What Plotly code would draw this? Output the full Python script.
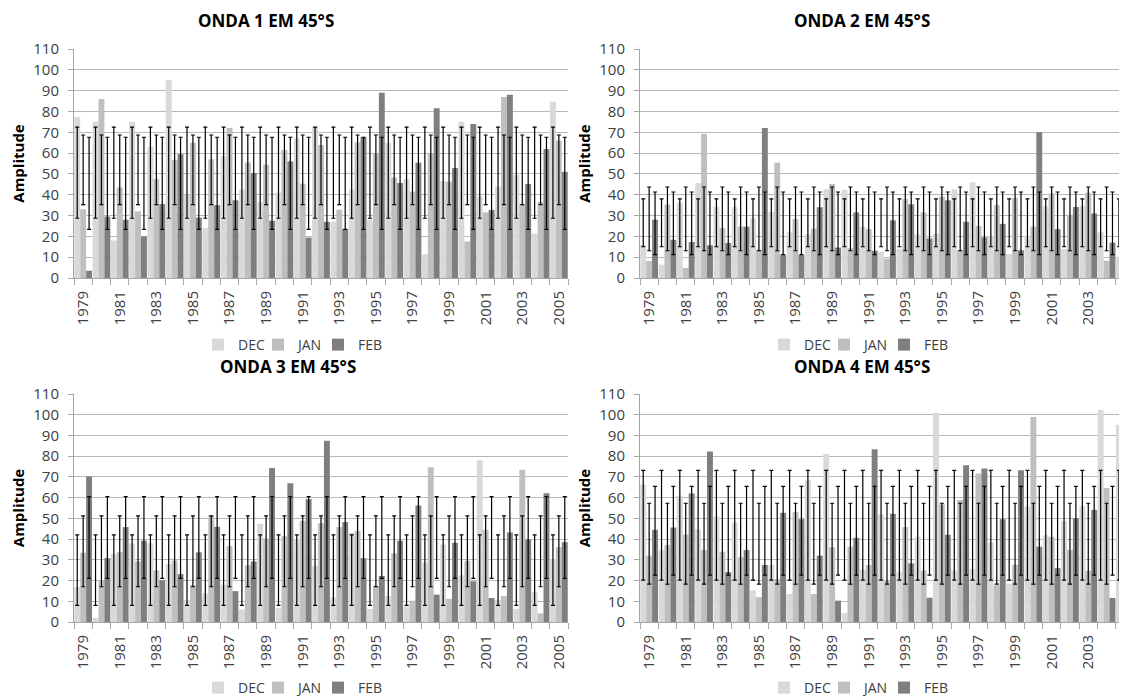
import plotly.graph_objects as go

years = list(range(1979, 2006))
series_names = ["DEC", "JAN", "FEB"]
series_colors = ["#d9d9d9", "#bfbfbf", "#7f7f7f"]
titles = ["ONDA 1 EM 45°S", "ONDA 2 EM 45°S", "ONDA 3 EM 45°S", "ONDA 4 EM 45°S"]

# ---- ONDA 1 ----
onda1_dec = [77.3, 75, 18, 75, 63, 95, 40, 24, 58.5, 42.5, 36.5, 41, 67, 72.5, 27, 42.4, 28, 65, 47.5, 11.4, 46.6, 75, 39.2, 43.9, 49.5, 21.3, 84.7]
onda1_jan = [33, 86, 43.5, 32, 47.5, 56.7, 65, 57, 72, 55.5, 54.4, 61.5, 45.3, 63.9, 32.8, 65.2, 60, 48.2, 41.5, 60, 46.3, 17.5, 31.5, 87, 35.5, 36.5, 66]
onda1_feb = [3.5, 29.5, 28, 20, 35.5, 59.5, 29, 35, 37.3, 50.4, 27.5, 56, 19.4, 27, 23.5, 67.6, 89, 45.6, 55.4, 81.5, 52.8, 74, 32.7, 88, 45.2, 62, 51]
onda1_err_low = [28.7, 35.2, 23.4]
onda1_err_high = [72.5, 68.7, 67.6]

# ---- ONDA 2 ----
onda2_dec = [15.9, 6.4, 36.2, 45.6, 34.3, 34, 28.7, 31.7, 22, 21, 42.6, 42.3, 24.5, 12.6, 14, 21, 21.3, 42.6, 46, 20.2, 11.5, 20.3, 34.4, 14, 34.7, 22, 10.2]
onda2_jan = [8.2, 35.2, 4.8, 69.2, 24, 24.7, 13.6, 55.4, 28.3, 23.7, 45.2, 14.3, 23.5, 9.3, 38, 31.5, 39, 13.3, 25, 35, 38.4, 24.7, 40.7, 30.4, 41, 8.3, 16.5]
onda2_feb = [28, 18.3, 17.3, 15.7, 16.8, 24.7, 72, 11, 11, 34, 14.6, 31.5, 13.1, 27.7, 35.4, 19, 37.3, 27, 19.5, 26, 13.3, 70, 23.5, 34.1, 31, 17, 15]
onda2_err_low = [15.0, 13.1, 11.2]
onda2_err_high = [38.0, 43.7, 41.3]

# ---- ONDA 3 ----
onda3_dec = [16.9, 2, 32.9, 37.9, 38, 27.9, 10.6, 13.8, 18, 6.1, 47.4, 6.7, 40, 27, 11.9, 43, 6.3, 12.5, 7.5, 28.7, 37.3, 22.5, 78, 10.6, 6.4, 14.6, 30.4]
onda3_jan = [33.4, 20.2, 33.7, 29.2, 24.9, 29.7, 17.7, 51.4, 36.6, 27.3, 40.3, 41.4, 48.8, 47.7, 45.8, 44, 17.5, 33.1, 10.3, 74.7, 11.2, 29.5, 44.5, 12.5, 73.4, 4.2, 36.1]
onda3_feb = [70.2, 30.8, 45.8, 39.2, 20.2, 23.1, 33.6, 45.9, 14.9, 29.2, 74.3, 67, 59.3, 87.5, 48.2, 30.8, 22.2, 39.2, 56.2, 13.2, 38.2, 19.6, 11.6, 43.2, 39.8, 62.1, 38.5]
onda3_err_low = [8.0, 17.0, 21.0]
onda3_err_high = [42.0, 51.2, 60.5]

# ---- ONDA 4 ----
onda4_dec = [66.3, 34.7, 61, 44.6, 50.9, 47.9, 15.3, 27.5, 13.5, 68.4, 81.1, 4.3, 25.2, 51.9, 24.2, 41.1, 101, 24.9, 25.5, 38.4, 18.5, 55.7, 41.8, 48.5, 56, 102.3, 95.2]
onda4_jan = [32, 37.1, 42.1, 34.8, 33.9, 31.3, 12, 20.7, 53, 13.5, 36.1, 36.3, 27.5, 20.2, 45.8, 24.9, 56.7, 58.9, 71.6, 17.8, 27.6, 98.9, 41.1, 34.8, 24.7, 64.7, 22.2]
onda4_feb = [44.5, 45.6, 62, 82.2, 24.1, 34.7, 27.5, 52.7, 49.6, 32, 10.3, 40.6, 83.3, 52.2, 28.3, 11.7, 42.1, 75.6, 74, 49.6, 73.2, 36.3, 26, 50.1, 54.1, 11.6, 20]
onda4_err_low = [20.2, 18.3, 22.6]
onda4_err_high = [73.2, 57.3, 65.4]

panels = [
    ([onda1_dec, onda1_jan, onda1_feb], onda1_err_low, onda1_err_high),
    ([onda2_dec, onda2_jan, onda2_feb], onda2_err_low, onda2_err_high),
    ([onda3_dec, onda3_jan, onda3_feb], onda3_err_low, onda3_err_high),
    ([onda4_dec, onda4_jan, onda4_feb], onda4_err_low, onda4_err_high),
]

# page body has an 8px default margin: figure is sized/positioned to compensate
SW, SH = 1127, 697
OFF = 8
W, H = SW - OFF, SH - OFF


def px(sx):
    return (sx - OFF) / W


def py(sy):
    return 1 - (sy - OFF) / H


BARGAP = 0.03
bar_w = (1 - BARGAP) / 3
offsets = [-bar_w, 0, bar_w]

FONT = "Open Sans"
TICK_COLOR = "#404040"
GRID = "#b8b8b8"

fig = go.Figure()

for p, (series, lo, hi) in enumerate(panels):
    sfx = "" if p == 0 else str(p + 1)
    xa, ya = "x" + sfx, "y" + sfx
    leg = "legend" + sfx
    for k, name in enumerate(series_names):
        fig.add_trace(go.Bar(
            x=years, y=series[k], name=name, marker=dict(color=series_colors[k], line=dict(width=0)),
            xaxis=xa, yaxis=ya, legend=leg, showlegend=True,
        ))
    # spacer legend entry so the last real entry is not clipped
    fig.add_trace(go.Scatter(
        x=[None], y=[None], name=" ", mode="markers", marker=dict(color="rgba(0,0,0,0)", size=1),
        xaxis=xa, yaxis=ya, legend=leg, showlegend=True, hoverinfo="skip",
    ))
    for k, name in enumerate(series_names):
        center = (lo[k] + hi[k]) / 2
        half = (hi[k] - lo[k]) / 2
        fig.add_trace(go.Scatter(
            x=[yr + offsets[k] for yr in years], y=[center] * len(years),
            mode="markers", marker=dict(size=1, color="rgba(0,0,0,0)"),
            error_y=dict(type="data", array=[half] * len(years), symmetric=True,
                         color="black", thickness=1.2, width=2),
            xaxis=xa, yaxis=ya, showlegend=False, hoverinfo="skip",
        ))

gw = (568 - 74) / 27.0
left_dom = [px(74), px(568)]
right_dom = [px(640), 1.0]
right_end = 1978.5 + (SW - 640) / gw
top_dom = [py(278), py(49)]
bot_dom = [py(622), py(394)]

layout = dict(
    width=W, height=H, margin=dict(l=0, r=0, t=0, b=0, autoexpand=False),
    paper_bgcolor="white", plot_bgcolor="white",
    barmode="group", bargap=BARGAP, bargroupgap=0,
    font=dict(family=FONT, size=15, color=TICK_COLOR),
    annotations=[],
)

doms = [(left_dom, top_dom, 1978.5 + 27), (right_dom, top_dom, right_end),
        (left_dom, bot_dom, 1978.5 + 27), (right_dom, bot_dom, right_end)]

for p, (xd, yd, xend) in enumerate(doms):
    sfx = "" if p == 0 else str(p + 1)
    layout["xaxis" + sfx] = dict(
        domain=xd, anchor="y" + sfx, range=[1978.5, xend], type="linear", automargin=False,
        tickmode="linear", tick0=1979, dtick=2, tickangle=-90, ticklabeloverflow="allow",
        ticks="outside", ticklen=6, tickcolor="rgba(0,0,0,0)",
        minor=dict(ticks="outside", tickmode="linear", tick0=1978.5, dtick=1, ticklen=6, tickcolor="#a6a6a6", showgrid=False),
        showline=True, linecolor="#a6a6a6", linewidth=1, showgrid=False, zeroline=False,
        tickfont=dict(family=FONT, size=15, color=TICK_COLOR),
    )
    layout["yaxis" + sfx] = dict(
        domain=yd, anchor="x" + sfx, range=[0, 110], dtick=10, tick0=0, automargin=False,
        ticks="outside", ticklen=5, tickcolor="#a6a6a6",
        showline=True, linecolor="#a6a6a6", linewidth=1,
        showgrid=True, gridcolor=GRID, gridwidth=1, zeroline=False,
        tickfont=dict(family=FONT, size=15, color=TICK_COLOR),
        ticklabelstandoff=6,
        title=dict(text="<b>Amplitude</b>", font=dict(family=FONT, size=15, color="black"), standoff=5),
    )

title_pos = [(266, 21), (862, 21), (288, 366), (862, 366)]
for p, (tx, ty) in enumerate(title_pos):
    layout["annotations"].append(dict(
        text="<b>" + titles[p] + "</b>", x=px(tx), y=py(ty), xref="paper", yref="paper",
        xanchor="center", yanchor="middle", showarrow=False,
        font=dict(family=FONT, size=17, color="black"),
    ))

legend_pos = [(198, 345), (764, 345), (198, 688), (764, 688)]
for p, (lx, ly) in enumerate(legend_pos):
    sfx = "" if p == 0 else str(p + 1)
    layout["legend" + sfx] = dict(
        orientation="h", x=px(lx), y=py(ly), xanchor="left", yanchor="middle",
        font=dict(family=FONT, size=14, color=TICK_COLOR), bgcolor="rgba(0,0,0,0)",
        itemwidth=30, tracegroupgap=0, entrywidth=15, entrywidthmode="pixels",
    )

fig.update_layout(**layout)
fig.write_html("out.html")
